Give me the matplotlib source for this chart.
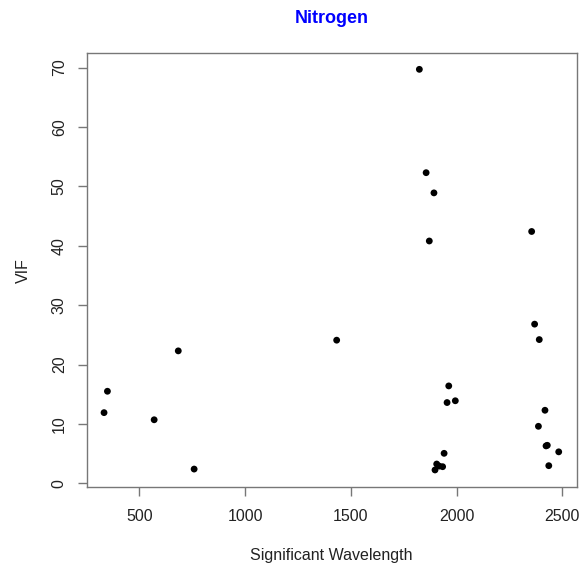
import matplotlib
matplotlib.use("Agg")
import matplotlib.pyplot as plt

plt.rcParams['font.family'] = ['Liberation Sans', 'DejaVu Sans']

wavelength = [333, 349, 570, 684, 759, 1433,
              1824, 1856, 1871, 1893,
              1898, 1906, 1918, 1934, 1941,
              1955, 1963, 1994,
              2355, 2369, 2391, 2387, 2418,
              2423, 2429, 2436, 2483]
vif = [11.9, 15.5, 10.7, 22.3, 2.4, 24.1,
       69.7, 52.3, 40.8, 48.9,
       2.25, 3.25, 2.9, 2.8, 5.05,
       13.6, 16.4, 13.9,
       42.4, 26.8, 24.2, 9.6, 12.3,
       6.3, 6.4, 2.97, 5.3]

xticks = [500, 1000, 1500, 2000, 2500]
yticks = [0, 10, 20, 30, 40, 50, 60, 70]

W, H = 579, 567
fig = plt.figure(figsize=(W / 100, H / 100), dpi=100)
ax = fig.add_axes([86.7 / W, 1 - 487.3 / H, (576.7 - 86.7) / W, (487.3 - 53.3) / H])

ax.scatter(wavelength, vif, s=24, c='black', edgecolors='none', zorder=3)

ax.set_xlim(251, 2568)
ax.set_ylim(-0.67, 72.4)
ax.set_xticks(xticks)
ax.set_yticks(yticks)
ax.set_yticklabels([str(t) for t in yticks], rotation=90, va='center')

for s in ax.spines.values():
    s.set_color('#777777')
    s.set_linewidth(1.0)
ax.tick_params(axis='both', length=6.3, width=1.0, color='#777777',
               labelsize=11.5, labelcolor='#222222')
ax.tick_params(axis='x', pad=9.5)
ax.tick_params(axis='y', pad=8)

ax.set_xlabel('Significant Wavelength', fontsize=11.5, color='#222222', labelpad=17)
ax.set_ylabel('VIF', fontsize=11.5, color='#222222', labelpad=15)
ax.set_title('Nitrogen', fontsize=13, fontweight='bold', color='#0000ff', pad=22)

fig.savefig('out.png', dpi=100)
